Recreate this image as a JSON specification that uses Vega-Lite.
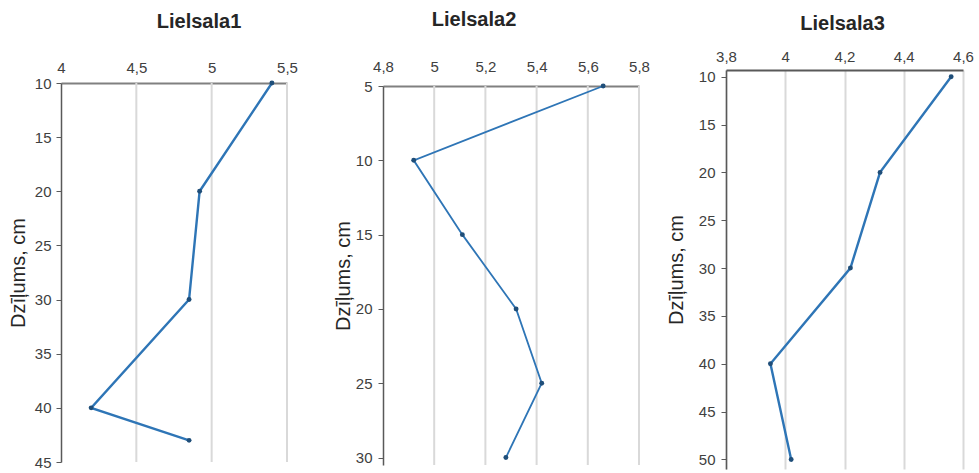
{
  "$schema": "https://vega.github.io/schema/vega-lite/v6.json",
  "background": "white",
  "padding": {"left": 8, "top": 10, "right": 5, "bottom": 0},
  "config": {
    "locale": {"number": {"decimal": ",", "thousands": " ", "grouping": [3], "currency": ["", ""]}},
    "view": {"stroke": null},
    "font": "Liberation Sans",
    "axis": {
      "labelFont": "Liberation Sans",
      "labelFontSize": 15,
      "labelColor": "#404040",
      "titleFont": "Liberation Sans",
      "titleFontSize": 20,
      "titleFontWeight": "normal",
      "titleColor": "#262626"
    },
    "title": {"font": "Liberation Sans", "fontSize": 20, "fontWeight": "bold", "color": "#262626"}
  },
  "datasets": {
    "merijumi": [
      {"vieta": "Lielsala1", "dzilums": 10, "vertiba": 5.4},
      {"vieta": "Lielsala1", "dzilums": 20, "vertiba": 4.92},
      {"vieta": "Lielsala1", "dzilums": 30, "vertiba": 4.85},
      {"vieta": "Lielsala1", "dzilums": 40, "vertiba": 4.2},
      {"vieta": "Lielsala1", "dzilums": 43, "vertiba": 4.85},
      {"vieta": "Lielsala2", "dzilums": 5, "vertiba": 5.66},
      {"vieta": "Lielsala2", "dzilums": 10, "vertiba": 4.92},
      {"vieta": "Lielsala2", "dzilums": 15, "vertiba": 5.11},
      {"vieta": "Lielsala2", "dzilums": 20, "vertiba": 5.32},
      {"vieta": "Lielsala2", "dzilums": 25, "vertiba": 5.42},
      {"vieta": "Lielsala2", "dzilums": 30, "vertiba": 5.28},
      {"vieta": "Lielsala3", "dzilums": 10, "vertiba": 4.56},
      {"vieta": "Lielsala3", "dzilums": 20, "vertiba": 4.32},
      {"vieta": "Lielsala3", "dzilums": 30, "vertiba": 4.22},
      {"vieta": "Lielsala3", "dzilums": 40, "vertiba": 3.95},
      {"vieta": "Lielsala3", "dzilums": 50, "vertiba": 4.02}
    ],
    "rezgis1": [{"vertiba": 4.5}, {"vertiba": 5}, {"vertiba": 5.5}],
    "rezgis2": [{"vertiba": 5}, {"vertiba": 5.2}, {"vertiba": 5.4}, {"vertiba": 5.6}, {"vertiba": 5.8}]
  },
  "spacing": 35,
  "hconcat": [
    {
      "title": {"text": "Lielsala1", "dx": 25, "offset": 28},
      "width": 226,
      "height": 392,
      "layer": [
        {
          "data": {"name": "rezgis1"},
          "mark": {"type": "rule", "color": "#d9d9d9", "strokeWidth": 2},
          "encoding": {
            "x": {"field": "vertiba", "type": "quantitative"},
            "y": {"datum": 10, "type": "quantitative"},
            "y2": {"datum": 45}
          }
        },
        {
          "data": {"name": "merijumi"},
          "transform": [{"filter": "datum.vieta === 'Lielsala1'"}],
          "mark": {"type": "line", "color": "#2e75b6", "strokeWidth": 2.4},
          "encoding": {
            "x": {"field": "vertiba", "type": "quantitative",
              "scale": {"domain": [4, 5.5], "zero": false, "nice": false},
              "axis": {"orient": "top", "values": [4, 4.5, 5, 5.5], "format": "~g", "title": null,
                "ticks": false, "labelFlush": false, "labelDx": 4, "labelPadding": 8, "offset": -13,
                "domainColor": "#808080", "domainWidth": 2, "grid": false}},
            "y": {"field": "dzilums", "type": "quantitative",
              "scale": {"domain": [10, 45], "range": [13, 392], "zero": false, "nice": false},
              "axis": {"values": [10, 15, 20, 25, 30, 35, 40, 45], "title": "Dzīļums, cm",
                "grid": false, "tickSize": 5, "tickColor": "#595959", "labelPadding": 5, "titlePadding": 6,
                "domainColor": "#595959", "domainWidth": 1.5}},
            "order": {"field": "dzilums", "type": "quantitative"}
          }
        },
        {
          "data": {"name": "merijumi"},
          "transform": [{"filter": "datum.vieta === 'Lielsala1'"}],
          "mark": {"type": "point", "filled": true, "size": 24, "color": "#1f4e79", "opacity": 1},
          "encoding": {
            "x": {"field": "vertiba", "type": "quantitative"},
            "y": {"field": "dzilums", "type": "quantitative"}
          }
        }
      ]
    },
    {
      "spacing": 16,
      "hconcat": [
        {
          "title": {"text": "Lielsala2", "dx": -37, "offset": 29},
          "width": 256,
          "height": 399,
          "layer": [
            {
              "data": {"name": "rezgis2"},
              "mark": {"type": "rule", "color": "#d9d9d9", "strokeWidth": 2},
              "encoding": {
                "x": {"field": "vertiba", "type": "quantitative"},
                "y": {"datum": 5, "type": "quantitative"},
                "y2": {"datum": 30.5}
              }
            },
            {
              "data": {"name": "merijumi"},
              "transform": [{"filter": "datum.vieta === 'Lielsala2'"}],
              "mark": {"type": "line", "color": "#2e75b6", "strokeWidth": 1.8},
              "encoding": {
                "x": {"field": "vertiba", "type": "quantitative",
                  "scale": {"domain": [4.8, 5.8], "zero": false, "nice": false},
                  "axis": {"orient": "top", "values": [4.8, 5, 5.2, 5.4, 5.6, 5.8], "format": "~g", "title": null,
                    "ticks": false, "labelFlush": false, "labelDx": 4, "labelPadding": 12, "offset": -16,
                    "domainColor": "#808080", "domainWidth": 2, "grid": false}},
                "y": {"field": "dzilums", "type": "quantitative",
                  "scale": {"domain": [5, 30.5], "range": [16, 395], "zero": false, "nice": false},
                  "axis": {"values": [5, 10, 15, 20, 25, 30], "title": "Dzīļums, cm",
                    "grid": false, "tickSize": 5, "tickColor": "#595959", "labelPadding": 6, "titlePadding": 2,
                    "domainColor": "#595959", "domainWidth": 1.5}},
                "order": {"field": "dzilums", "type": "quantitative"}
              }
            },
            {
              "data": {"name": "merijumi"},
              "transform": [{"filter": "datum.vieta === 'Lielsala2'"}],
              "mark": {"type": "point", "filled": true, "size": 24, "color": "#1f4e79", "opacity": 1},
              "encoding": {
                "x": {"field": "vertiba", "type": "quantitative"},
                "y": {"field": "dzilums", "type": "quantitative"}
              }
            }
          ]
        },
        {
          "title": {"text": "Lielsala3", "dx": -2, "offset": 15},
          "width": 237,
          "height": 399,
          "data": {"name": "merijumi"},
          "transform": [{"filter": "datum.vieta === 'Lielsala3'"}],
          "encoding": {
            "x": {"field": "vertiba", "type": "quantitative",
              "scale": {"domain": [3.8, 4.6], "zero": false, "nice": false},
              "axis": {"orient": "top", "values": [3.8, 4, 4.2, 4.4, 4.6], "format": "~g", "title": null,
                "ticks": false, "labelFlush": false, "labelDx": 4, "labelPadding": 6,
                "domainColor": "#595959", "domainWidth": 2,
                "grid": true, "gridColor": "#d9d9d9", "gridWidth": 2}},
            "y": {"field": "dzilums", "type": "quantitative",
              "scale": {"domain": [9.3, 51], "reverse": true, "zero": false, "nice": false},
              "axis": {"values": [10, 15, 20, 25, 30, 35, 40, 45, 50], "title": "Dzīļums, cm",
                "grid": false, "tickSize": 5, "tickColor": "#595959", "labelPadding": 6, "titlePadding": 12,
                "domainColor": "#595959", "domainWidth": 1.5}},
            "order": {"field": "dzilums", "type": "quantitative"}
          },
          "layer": [
            {"mark": {"type": "line", "color": "#2e75b6", "strokeWidth": 2.4}},
            {"mark": {"type": "point", "filled": true, "size": 24, "color": "#1f4e79", "opacity": 1}}
          ]
        }
      ]
    }
  ]
}
